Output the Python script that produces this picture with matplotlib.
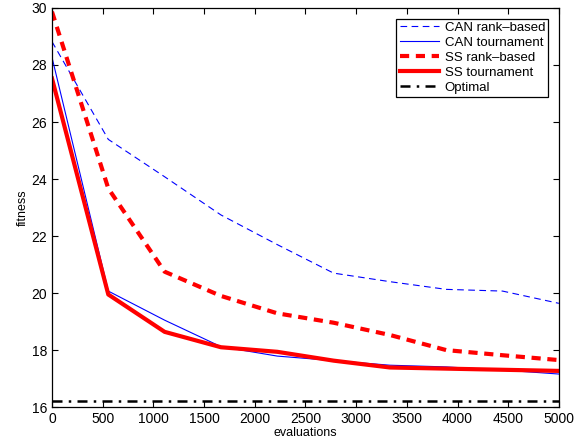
import numpy as np
import matplotlib.pyplot as plt

# Dados
avaliacoes = np.linspace(0, 5000, 10)
can_rank = [28.82, 25.39, 24.08, 22.74, 21.70, 20.70, 20.40, 20.13, 20.07, 19.64]
can_torneio = [28.27, 20.07, 19.05, 18.12, 17.79, 17.63, 17.47, 17.41, 17.30, 17.16]
ss_rank = [29.87, 23.67, 20.75, 19.90, 19.29, 18.96, 18.53, 18.00, 17.82, 17.65]
ss_torneio = [27.53, 19.95, 18.64, 18.10, 17.94, 17.63, 17.39, 17.35, 17.31, 17.27]
otimo = 16.2

plt.rcParams['font.family'] = ['Liberation Sans', 'DejaVu Sans']

fig = plt.figure(figsize=(5.84, 4.43), dpi=100)
ax = fig.add_axes([0.089, 0.081, 0.868, 0.901])

ax.plot(avaliacoes, can_rank, '--', color='blue', linewidth=0.8, dashes=(6, 4), label='CAN rank\u2013based')
ax.plot(avaliacoes, can_torneio, '-', color='blue', linewidth=0.8, label='CAN tournament')
ax.plot(avaliacoes, ss_rank, '--', color='red', linewidth=3, dashes=(2.2, 1.6), label='SS rank\u2013based')
ax.plot(avaliacoes, ss_torneio, '-', color='red', linewidth=3, label='SS tournament')
ax.plot(avaliacoes, [otimo] * len(avaliacoes), '-.', color='black', linewidth=1.8,
        dashes=(4, 2.5, 1, 2.5), label='Optimal')

ax.set_xlim(0, 5000)
ax.set_ylim(16, 30)
ax.set_xticks(np.arange(0, 5001, 500))
ax.set_yticks(np.arange(16, 31, 2))
ax.tick_params(direction='in', top=True, right=True, labelsize=10, length=4, width=0.8)
for lado in ax.spines.values():
    lado.set_linewidth(0.9)

ax.set_xlabel('evaluations', fontsize=9, labelpad=1)
ax.set_ylabel('fitness', fontsize=9, labelpad=2)

leg = ax.legend(loc='upper right', fontsize=9.5, fancybox=False, framealpha=1,
                edgecolor='black', borderaxespad=0.8, handlelength=3.0,
                handletextpad=0.4, labelspacing=0.2, borderpad=0.25)
leg.get_frame().set_linewidth(0.9)

plt.savefig('out.png', dpi=100)
